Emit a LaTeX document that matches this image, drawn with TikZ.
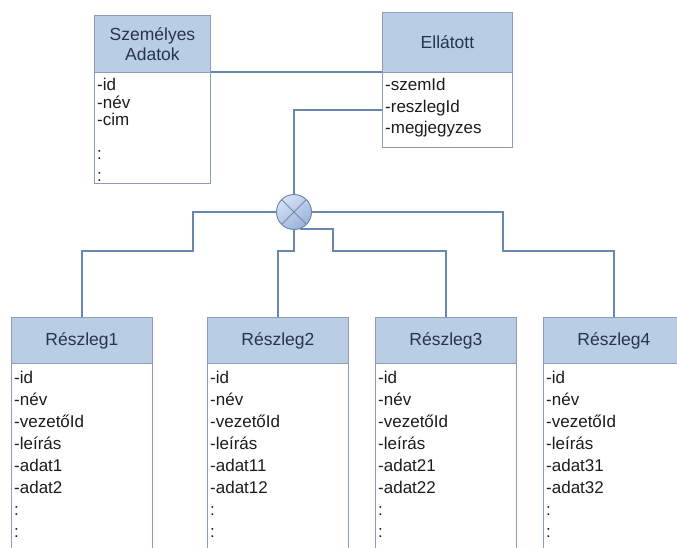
\documentclass[tikz,border=0pt]{standalone}
\usepackage{fontspec}
\setmainfont{Liberation Sans}
\definecolor{hdrfill}{HTML}{B9CDE5}
\definecolor{boxedge}{HTML}{8C9DB5}
\definecolor{link}{HTML}{6787B0}
\definecolor{hdrtext}{HTML}{26364A}
\definecolor{bodytext}{HTML}{1C1C1C}
\definecolor{jtop}{HTML}{D6E2F4}
\definecolor{jbottom}{HTML}{98B2DC}
\definecolor{jedge}{HTML}{7489A6}
\begin{document}
\begin{tikzpicture}[x=1pt,y=-1pt,
  hdr/.style={draw=boxedge, fill=hdrfill, line width=0.9pt, anchor=north west,
    inner sep=0pt, text=hdrtext, align=center,
    font=\fontsize{17.5}{20}\selectfont},
  bodybox/.style={draw=boxedge, fill=white, line width=0.9pt, anchor=north west, inner sep=0pt},
  % anchored at the baseline of the last line
  fields/.style={anchor=base west, inner sep=0pt, align=left, text=bodytext,
    font=\fontsize{17}{#1}\selectfont},
  fields/.default=22,
  link/.style={draw=link, line width=2.8pt},
  junction/.style={circle, draw=jedge, line width=1pt, minimum size=35pt,
    inner sep=0pt, top color=jtop, bottom color=jbottom, shading angle=35,
    path picture={\draw[jedge, line width=1pt]
      (path picture bounding box.north west) -- (path picture bounding box.south east)
      (path picture bounding box.north east) -- (path picture bounding box.south west);}}
]
\useasboundingbox (0,0) rectangle (677,547);
\clip (0,0) rectangle (677,547);

% Személyes Adatok
\node[hdr, minimum width=116pt, minimum height=57pt] (sa) at (94,15) {Személyes\\Adatok};
\node[bodybox, minimum width=116pt, minimum height=111pt] (sab) at (94,72) {};
\node[fields=17.5] (saf) at (97,125.5) {-id\\-név\\-cim};
\node[fields=22] (sad) at (97,181) {:\\:};

% Ellátott
\node[hdr, minimum width=130pt, minimum height=60pt] (el) at (382,12) {Ellátott};
\node[bodybox, minimum width=130pt, minimum height=75pt] (elb) at (382,72) {};
\node[fields=21.5] (elf) at (385,133.5) {-szemId\\-reszlegId\\-megjegyzes};

% Részleg boxes
\foreach \n/\x/\a/\b in {1/11/adat1/adat2, 2/207/adat11/adat12, 3/375/adat21/adat22, 4/543/adat31/adat32}{
  \node[hdr, minimum width=141pt, minimum height=46pt] (r\n) at (\x,317) {Részleg\n};
  \node[bodybox, minimum width=141pt, minimum height=200pt] (rb\n) at (\x,363) {};
  \node[fields] (rf\n) at (\x+3,537.5) {-id\\-név\\-vezetőId\\-leírás\\-\a\\-\b\\:\\:};
}

% junction
\node[junction] (x) at (294,212) {};

\coordinate (jl) at (193,251);
\coordinate (jr) at (503,251);
\coordinate (jb) at (294,251);
\coordinate (jc) at (333,251);

\draw[link] (sab.north east) -- (elb.north west);
\draw[link] (elb.west) -| (x.north);
\draw[link] (x.west) -| (jl) -| (r1.north);
\draw[link] (x.east) -| (jr) -| (r4.north);
\draw[link] (x.south) -- (jb) -| (r2.north);
\draw[link] (x.-70) -| (jc) -| (r3.north);
\end{tikzpicture}
\end{document}
